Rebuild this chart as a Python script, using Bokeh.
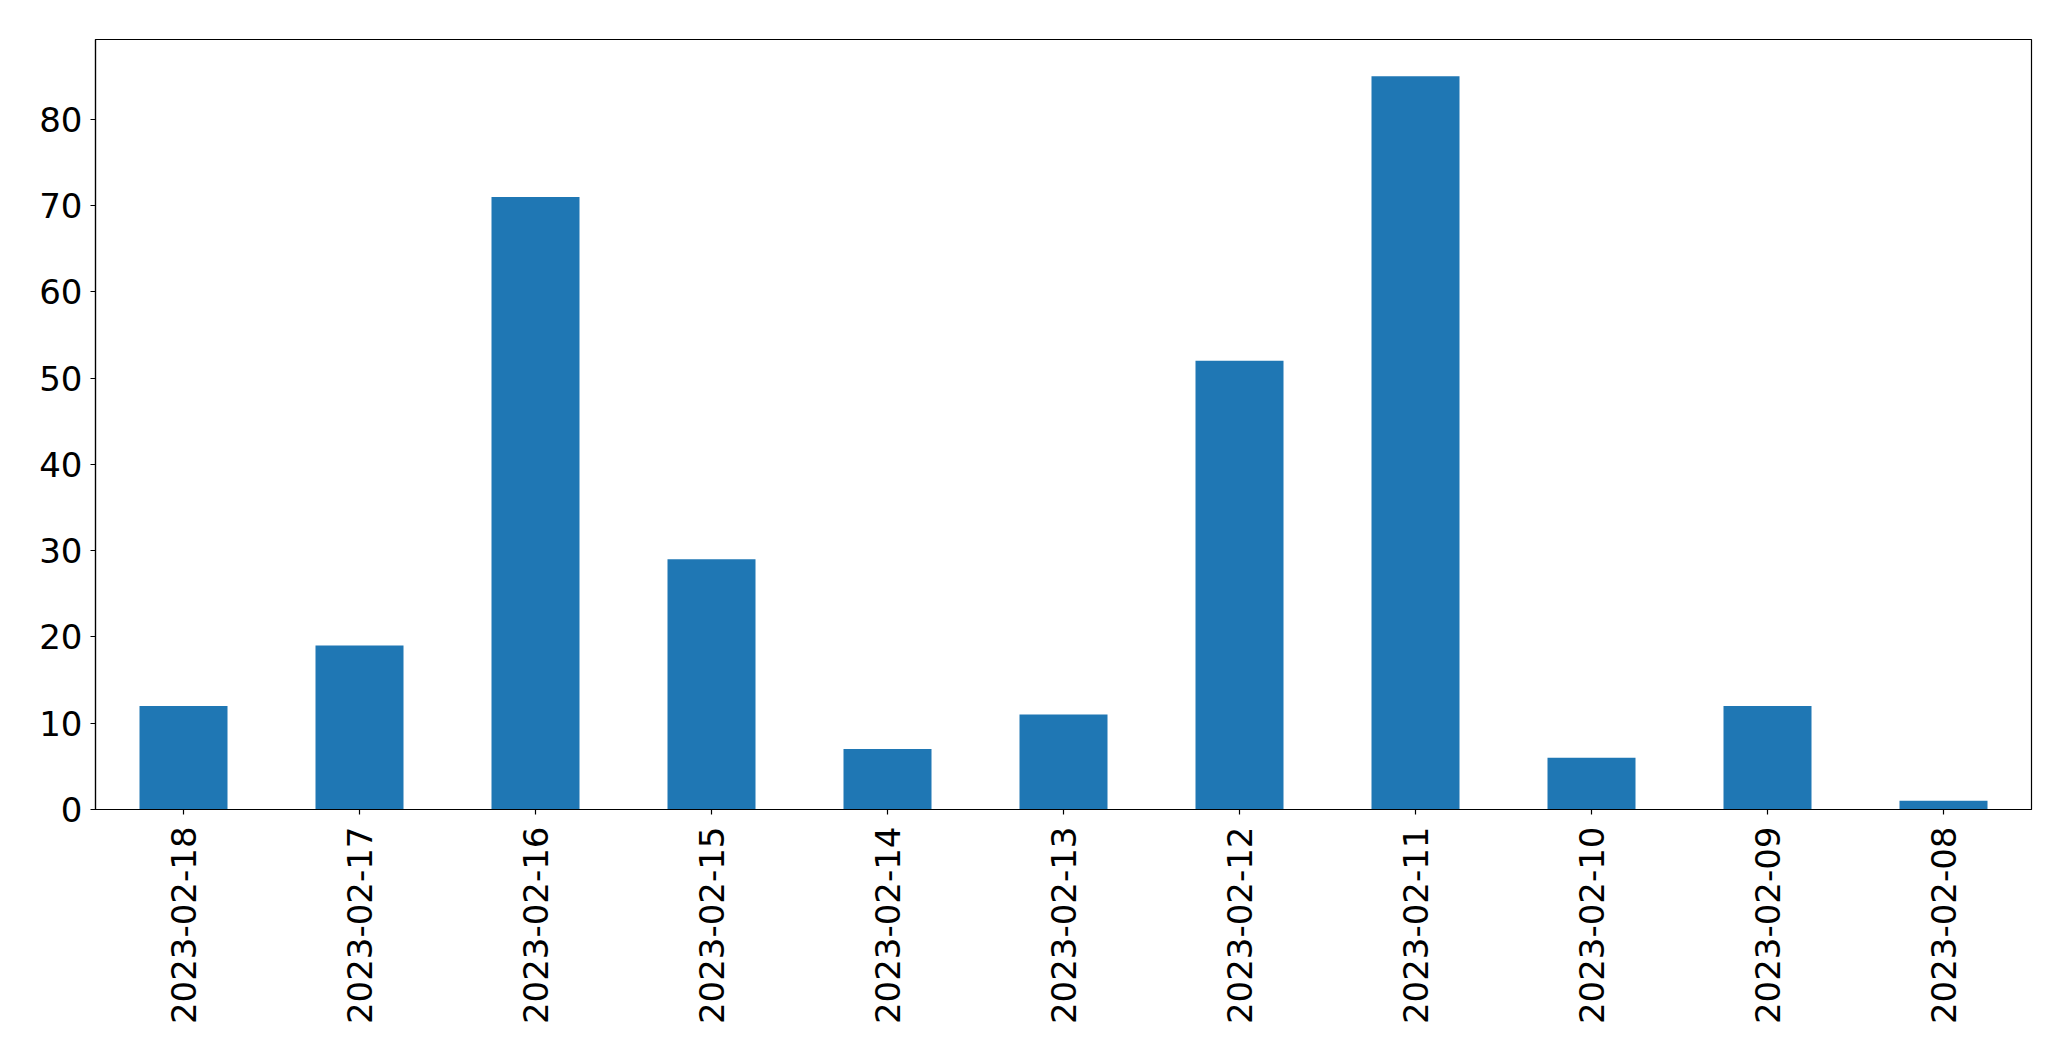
import math
from bokeh.plotting import figure
from bokeh.models import ColumnDataSource, Range1d, FactorRange
from bokeh.embed import file_html
from bokeh.resources import INLINE

dates = ["2023-02-18", "2023-02-17", "2023-02-16", "2023-02-15", "2023-02-14",
         "2023-02-13", "2023-02-12", "2023-02-11", "2023-02-10", "2023-02-09",
         "2023-02-08"]
counts = [12, 19, 71, 29, 7, 11, 52, 85, 6, 12, 1]

source = ColumnDataSource(data=dict(dates=dates, counts=counts))

p = figure(
    x_range=FactorRange(*dates, range_padding=0.0),
    y_range=Range1d(0, max(counts) * 1.05),
    frame_width=1936, frame_height=770,
    min_border_left=95, min_border_top=39, min_border_right=32, min_border_bottom=200,
    output_backend="svg", toolbar_location=None,
)
p.x_range.factor_padding = 0.0
p.vbar(x="dates", top="counts", width=0.5, source=source,
       fill_color="#1f77b4", line_color=None)

p.xgrid.grid_line_color = None
p.ygrid.grid_line_color = None
p.outline_line_color = "black"
p.outline_line_alpha = 1.0
p.outline_line_width = 1.2
p.background_fill_color = "white"
p.border_fill_color = "white"

for ax in (p.xaxis[0], p.yaxis[0]):
    ax.axis_line_color = "black"
    ax.axis_line_width = 1.2
    ax.major_tick_line_color = "black"
    ax.major_tick_line_width = 1.2
    ax.major_tick_out = 5
    ax.major_tick_in = 0
    ax.minor_tick_line_color = None
    ax.major_label_text_font = "DejaVu Sans"
    ax.major_label_text_font_size = "34px"
    ax.major_label_text_color = "black"

p.yaxis[0].ticker = [0, 10, 20, 30, 40, 50, 60, 70, 80]
p.yaxis[0].major_label_standoff = 8
p.xaxis[0].major_label_orientation = math.pi / 2
p.xaxis[0].major_label_standoff = 12

open("out.html", "w").write(file_html(p, INLINE))
